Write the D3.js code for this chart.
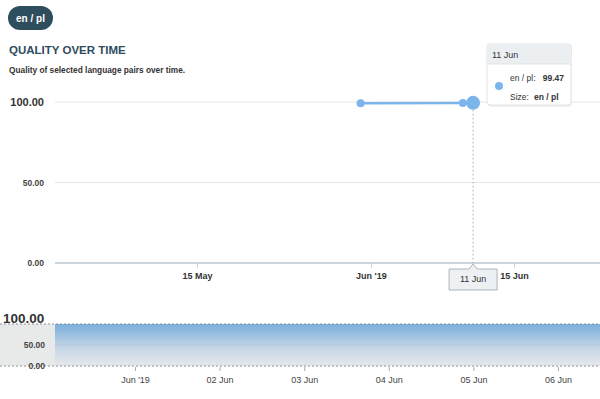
<!DOCTYPE html>
<html><head><meta charset="utf-8">
<script src="https://cdn.jsdelivr.net/npm/d3@7"></script>
<style>
body{margin:0;background:#fff;font-family:"Liberation Sans",Arial,sans-serif;}
svg{display:block}
</style></head>
<body>
<svg id="c" width="600" height="399"></svg>
<script>
// ---- data ----
const seriesName = "en / pl";
const dates = ["2019-05-31", "2019-06-10", "2019-06-11"];
const values = [99.3, 99.4, 99.47];
const yTicks = [0, 50, 100];
const yTickLabels = ["0.00", "50.00", "100.00"];
const xTicks = ["2019-05-15", "2019-06-01", "2019-06-15"];
const xTickLabels = ["15 May", "Jun '19", "15 Jun"];
const navTicks = ["2019-06-01", "2019-06-02", "2019-06-03", "2019-06-04", "2019-06-05", "2019-06-06"];
const navTickLabels = ["Jun '19", "02 Jun", "03 Jun", "04 Jun", "05 Jun", "06 Jun"];
const hoverIndex = 2;
const hoverLabel = "11 Jun";
const title = "QUALITY OVER TIME";
const subtitle = "Quality of selected language pairs over time.";

const parse = d3.timeParse("%Y-%m-%d");
const data = dates.map((d, i) => ({date: parse(d), value: values[i]}));

const svg = d3.select("#c");
const blue = "#7cb5ec";

// ---- header ----
const badge = svg.append("g");
badge.append("rect").attr("x", 8).attr("y", 6).attr("width", 45).attr("height", 24).attr("rx", 12)
  .attr("fill", "#2f4e5d");
badge.append("text").attr("x", 30.5).attr("y", 21.5).attr("text-anchor", "middle")
  .attr("fill", "#fff").attr("font-size", 10).attr("font-weight", "bold").text(seriesName);
svg.append("text").attr("x", 9).attr("y", 54).attr("font-size", 11.5).attr("font-weight", "bold")
  .attr("fill", "#2e4b60").text(title);
svg.append("text").attr("x", 9).attr("y", 73).attr("font-size", 8.3).attr("font-weight", "bold")
  .attr("fill", "#333").text(subtitle);

// ---- main chart ----
const x = d3.scaleTime().domain([parse("2019-05-15"), parse("2019-06-15")]).range([197, 514]);
const y = d3.scaleLinear().domain([0, 100]).range([263, 102]);
const left = 55, right = 600;

// gridlines
svg.append("g").selectAll("line").data(yTicks.slice(1)).join("line")
  .attr("x1", left).attr("x2", right).attr("y1", d => y(d)).attr("y2", d => y(d))
  .attr("stroke", "#e6e6e6").attr("stroke-width", 1);

// y labels
svg.append("g").selectAll("text").data(yTicks).join("text")
  .attr("x", 44).attr("y", d => y(d) + (d === 100 ? 4 : 3))
  .attr("text-anchor", "end")
  .attr("font-size", (d) => d === 100 ? 11 : 8.5)
  .attr("font-weight", "bold")
  .attr("fill", d => d === 100 ? "#333" : "#444")
  .text((d, i) => yTickLabels[i]);

// x axis
const xAxis = d3.axisBottom(x).tickValues(xTicks.map(parse)).tickSize(5)
  .tickFormat((d, i) => xTickLabels[i]);
const gx = svg.append("g").attr("transform", `translate(0,${y(0)})`).call(xAxis);
gx.select(".domain").remove();
gx.selectAll(".tick line").attr("stroke", "#ccd6eb");
gx.selectAll(".tick text").attr("font-size", 9).attr("font-weight", "bold").attr("fill", "#333")
  .attr("font-family", "Liberation Sans, Arial, sans-serif").attr("dy", "0.9em");
svg.append("line").attr("x1", left).attr("x2", right).attr("y1", y(0)).attr("y2", y(0))
  .attr("stroke", "#b8c7d1").attr("stroke-width", 1.5);

// crosshair
const hp = data[hoverIndex];
svg.append("line").attr("x1", x(hp.date)).attr("x2", x(hp.date))
  .attr("y1", y(hp.value) + 7).attr("y2", y(0))
  .attr("stroke", "#aaa").attr("stroke-width", 1).attr("stroke-dasharray", "1.5,2.5");

// line
const line = d3.line().x(d => x(d.date)).y(d => y(d.value));
svg.append("path").datum(data).attr("d", line).attr("fill", "none")
  .attr("stroke", blue).attr("stroke-width", 2.5);
svg.append("g").selectAll("circle").data(data).join("circle")
  .attr("cx", d => x(d.date)).attr("cy", d => y(d.value))
  .attr("r", (d, i) => i === hoverIndex ? 7 : 4).attr("fill", blue);

// x crosshair label
const lx = x(hp.date), ly = y(0) + 1;
svg.append("path")
  .attr("d", `M${lx-24},${ly+5} L${lx-4},${ly+5} L${lx},${ly} L${lx+4},${ly+5} L${lx+24},${ly+5} L${lx+24},${ly+26} L${lx-24},${ly+26} Z`)
  .attr("fill", "#eef1f4").attr("stroke", "#9aa3ab").attr("stroke-width", 0.8);
svg.append("text").attr("x", lx).attr("y", ly + 18).attr("text-anchor", "middle")
  .attr("font-size", 9).attr("fill", "#333").text(hoverLabel);

// tooltip
const tx = 487, ty = 44, tw = 84, th = 61;
const tip = svg.append("g");
tip.append("rect").attr("x", tx + 1).attr("y", ty + 2).attr("width", tw).attr("height", th).attr("rx", 3)
  .attr("fill", "#000").attr("opacity", 0.06);
tip.append("rect").attr("x", tx).attr("y", ty).attr("width", tw).attr("height", th).attr("rx", 3)
  .attr("fill", "#fff").attr("stroke", "#e0e3e6").attr("stroke-width", 1);
tip.append("path").attr("d", `M${tx+0.5},${ty+20} L${tx+0.5},${ty+3} Q${tx+0.5},${ty+0.5} ${tx+3},${ty+0.5} L${tx+tw-3},${ty+0.5} Q${tx+tw-0.5},${ty+0.5} ${tx+tw-0.5},${ty+3} L${tx+tw-0.5},${ty+20} Z`)
  .attr("fill", "#eceff2");
tip.append("line").attr("x1", tx).attr("x2", tx + tw).attr("y1", ty + 20).attr("y2", ty + 20)
  .attr("stroke", "#e0e3e6");
tip.append("text").attr("x", tx + 5).attr("y", ty + 14).attr("font-size", 9).attr("fill", "#333").text(hoverLabel);
tip.append("circle").attr("cx", tx + 12).attr("cy", ty + 42).attr("r", 4).attr("fill", blue);
tip.append("text").attr("x", tx + 23).attr("y", ty + 37).attr("font-size", 8.5).attr("fill", "#333").text(seriesName + ":");
tip.append("text").attr("x", tx + 77).attr("y", ty + 37).attr("text-anchor", "end").attr("font-size", 8.5)
  .attr("font-weight", "bold").attr("fill", "#333").text(d3.format(".2f")(hp.value));
tip.append("text").attr("x", tx + 23).attr("y", ty + 56).attr("font-size", 8.5).attr("fill", "#333").text("Size:");
tip.append("text").attr("x", tx + 47).attr("y", ty + 56).attr("font-size", 8.5)
  .attr("font-weight", "bold").attr("fill", "#333").text(seriesName);

// ---- navigator ----
const nx = d3.scaleTime().domain([parse("2019-06-01"), parse("2019-06-06")]).range([135, 558]);
const ny = d3.scaleLinear().domain([0, 100]).range([366, 324]);
const defs = svg.append("defs");
const grad = defs.append("linearGradient").attr("id", "ng").attr("x1", 0).attr("x2", 0).attr("y1", 0).attr("y2", 1);
grad.append("stop").attr("offset", "0%").attr("stop-color", "#7aaedb");
grad.append("stop").attr("offset", "55%").attr("stop-color", "#c3d5e6");
grad.append("stop").attr("offset", "100%").attr("stop-color", "#e6e8ea");
defs.append("clipPath").attr("id", "nclip").append("rect")
  .attr("x", left).attr("y", 300).attr("width", right - left).attr("height", 80);

svg.append("rect").attr("x", 0).attr("y", ny(100)).attr("width", left).attr("height", ny(0) - ny(100))
  .attr("fill", "#e8e9e9");
const area = d3.area().x(d => nx(d.date)).y0(ny(0)).y1(d => ny(100)).curve(d3.curveStepAfter);
const navData = [{date: nx.invert(left)}, ...data.map(d => ({date: d.date}))];
svg.append("path").datum(navData).attr("d", area).attr("fill", "url(#ng)").attr("clip-path", "url(#nclip)");
svg.append("line").attr("x1", left).attr("x2", right).attr("y1", ny(50)).attr("y2", ny(50))
  .attr("stroke", "#b3c7d9").attr("stroke-width", 0.8);
[100, 0].forEach(v => {
  svg.append("line").attr("x1", 0).attr("x2", right).attr("y1", ny(v)).attr("y2", ny(v))
    .attr("stroke", "#8a9299").attr("stroke-width", 1).attr("stroke-dasharray", "2,2");
});
svg.append("text").attr("x", 3).attr("y", ny(100) - 1).attr("font-size", 13.5).attr("font-weight", "bold")
  .attr("fill", "#333").text(yTickLabels[2]);
[0, 50].forEach((v, i) => {
  svg.append("text").attr("x", 45).attr("y", ny(v) + 3).attr("text-anchor", "end")
    .attr("font-size", 8.5).attr("font-weight", "bold").attr("fill", "#444").text(yTickLabels[i]);
});
const navAxis = d3.axisBottom(nx).tickValues(navTicks.map(parse)).tickSize(4)
  .tickFormat((d, i) => navTickLabels[i]);
const gn = svg.append("g").attr("transform", `translate(0,${ny(0) + 1})`).call(navAxis);
gn.select(".domain").remove();
gn.selectAll(".tick line").attr("stroke", "#aab");
gn.selectAll(".tick text").attr("font-size", 9).attr("fill", "#444")
  .attr("font-family", "Liberation Sans, Arial, sans-serif").attr("dy", "1.05em");
</script>
</body></html>
